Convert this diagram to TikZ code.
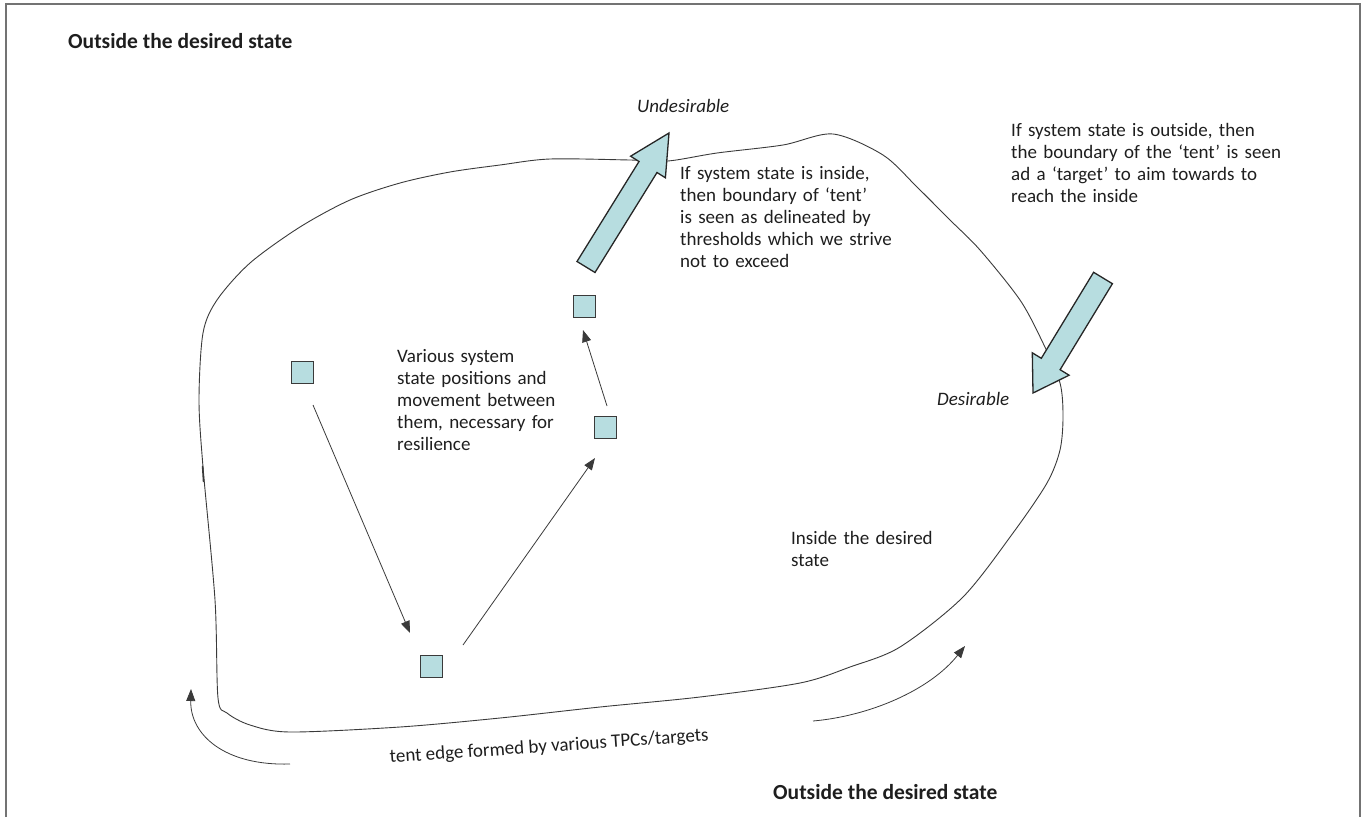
\documentclass[tikz,border=0pt]{standalone}
\usepackage{fontspec}
\setmainfont{Carlito}
\usetikzlibrary{arrows.meta}
\definecolor{boxfill}{HTML}{B7DDE0}
\definecolor{inkgray}{HTML}{3A3A3A}
\definecolor{txtcol}{HTML}{1E1E1E}
\begin{document}
\begin{tikzpicture}[x=1pt,y=-1pt,
  txt/.style={inner sep=0pt, text=txtcol, font=\fontsize{19}{22}\selectfont},
  bold/.style={txt, font=\fontsize{21.5}{24}\selectfont\bfseries},
  note/.style={txt, anchor=base west, text width=#1, align=left},
  statebox/.style={draw=inkgray, line width=0.9pt, fill=boxfill, minimum size=22pt, inner sep=0pt},
  bigarrow/.style={draw=black!85, line width=1.3pt, fill=boxfill, line join=miter},
  conn/.style={draw=inkgray, line width=0.8pt, -{Triangle[length=12pt,width=9pt]}},
  tent/.style={draw=inkgray, line width=0.9pt},
  frame/.style={draw=black!55, line width=1.4pt}]
\useasboundingbox (0,0) rectangle (1365,817);
% frame
\draw[frame] (6,817) -- (6,4) -- (1360,4) -- (1360,817);
% tent boundary
\draw[tent] plot[smooth cycle, tension=0.5] coordinates {
 (199,400) (203,333) (217,300) (250,263) (300,227) (350,200) (400,183)
 (450,172) (500,165) (550,159) (630,160) (668,161) (717,153) (783,145)
 (833,134) (883,155) (917,187) (950,220) (980,250) (1020,300) (1043,343)
 (1060,383) (1063,417) (1060,450) (1047,483) (1013,533) (963,597)
 (900,647) (850,667) (800,683) (700,697) (600,707) (500,718) (400,727)
 (290,732) (250,725) (227,713) (218,698) (215,600) (203,467)};
\draw[inkgray, line width=1.6pt] (202.6,466) -- (203.6,482);
% block arrows
\draw[bigarrow] (577,261.5) -- (639,161.5) -- (630.6,156.2) -- (669,133)
  -- (665.4,177.8) -- (657,172.5) -- (595,272.5) -- cycle;
\draw[bigarrow] (1093.6,272.3) -- (1112.4,283.7) -- (1060.1,369.7)
  -- (1069.1,375.2) -- (1033,393) -- (1032.3,352.8) -- (1041.3,358.3) -- cycle;
% state boxes
\node[statebox] (s1) at (302,372) {};
\node[statebox] (s2) at (584,306) {};
\node[statebox] (s3) at (605,427) {};
\node[statebox] (s4) at (431,666) {};
\draw[conn] ([shift={(11,33)}]s1.center) -- ([shift={(-21,-33)}]s4.center);
\draw[conn] ([shift={(32,-21)}]s4.center) -- ([shift={(-10,31)}]s3.center);
\draw[conn] ([shift={(2,-21)}]s3.center) -- ([shift={(-1,24)}]s2.center);
% curved arrows along tent edge
\coordinate (la0) at (290,764);
\coordinate (la1) at (191,689);
\draw[conn] (la0) .. controls (225,766) and (190,735) .. (la1);
\coordinate (ra0) at (813,721);
\coordinate (ra1) at (965,646);
\draw[conn] (ra0) .. controls (870,716) and (930,690) .. (ra1);
% texts
\node[bold, anchor=base west] (titletop) at (68,48) {Outside the desired state};
\node[bold, anchor=base west] (titlebot) at (773,799) {Outside the desired state};
\node[txt, anchor=base west, font=\fontsize{19}{22}\selectfont\itshape] (undes) at (637,112) {Undesirable};
\node[txt, anchor=base west, font=\fontsize{19}{22}\selectfont\itshape] (des) at (937,405) {Desirable};
\node[note=230pt] (insidenote) at (680,179) {If system state is inside,\\ then boundary of ‘tent’\\ is seen as delineated by\\ thresholds which we strive\\ not to exceed};
\node[note=300pt] (outsidenote) at (1011,136) {If system state is outside, then\\ the boundary of the ‘tent’ is seen\\ ad a ‘target’ to aim towards to\\ reach the inside};
\node[note=190pt] (variousnote) at (397,362) {Various system\\ state positions and\\ movement between\\ them, necessary for\\ resilience};
\node[note=160pt] (insidelabel) at (791,544) {Inside the desired\\ state};
\node[txt, anchor=base west, rotate=4] (edgelabel) at (390,763) {tent edge formed by various TPCs/targets};
\end{tikzpicture}
\end{document}
